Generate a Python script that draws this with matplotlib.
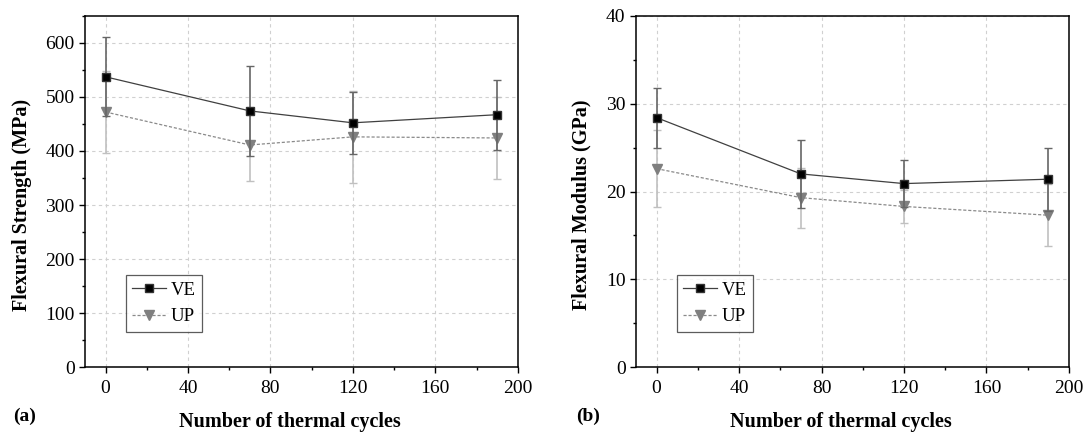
import matplotlib
matplotlib.use("Agg")
import matplotlib.pyplot as plt
from matplotlib.ticker import MultipleLocator

plt.rcParams['font.family'] = ['Liberation Serif', 'DejaVu Serif']

cycles = [0, 70, 120, 190]
ve_strength = [537, 474, 452, 467]
ve_strength_err = [73, 83, 57, 65]
up_strength = [472, 411, 426, 424]
up_strength_err = [76, 66, 85, 75]

ve_modulus = [28.4, 22.0, 20.9, 21.4]
ve_modulus_err = [3.4, 3.9, 2.7, 3.6]
up_modulus = [22.6, 19.3, 18.3, 17.3]
up_modulus_err = [4.4, 3.4, 1.9, 3.5]

xlabel = "Number of thermal cycles"
ylabels = ["Flexural Strength (MPa)", "Flexural Modulus (GPa)"]
panel_tags = ["(a)", "(b)"]
series_names = ["VE", "UP"]

fig = plt.figure(figsize=(10.84, 4.34), dpi=100)
ax1 = fig.add_axes([0.0784, 0.1537, 0.3992, 0.8101])
ax2 = fig.add_axes([0.5867, 0.1537, 0.3994, 0.8101])

def draw(ax, ve, ve_e, up, up_e, ylim, ymajor, yminor, ylabel, ylab_x):
    ax.grid(True, color='#d0d0d0', linestyle=(0, (3, 3)), linewidth=0.8, zorder=0)
    ax.set_axisbelow(True)
    up_c = ax.errorbar(cycles, up, yerr=up_e, color='#8a8a8a', ecolor='#c0c0c0',
                       elinewidth=1.2, capsize=3, capthick=1.0, linestyle=(0, (2.5, 1.5)),
                       linewidth=0.9, marker='v', markersize=7, markerfacecolor='#7f7f7f',
                       markeredgecolor='#7f7f7f', zorder=3)
    ve_c = ax.errorbar(cycles, ve, yerr=ve_e, color='#404040', ecolor='#666666',
                       elinewidth=1.2, capsize=3, capthick=1.0, linestyle='-',
                       linewidth=0.9, marker='s', markersize=6, markerfacecolor='black',
                       markeredgecolor='#333333', zorder=4)
    ax.set_xlim(-10, 200)
    ax.set_ylim(*ylim)
    ax.xaxis.set_major_locator(MultipleLocator(40))
    ax.xaxis.set_minor_locator(MultipleLocator(20))
    ax.yaxis.set_major_locator(MultipleLocator(ymajor))
    ax.yaxis.set_minor_locator(MultipleLocator(yminor))
    ax.tick_params(which='major', direction='out', length=4.5, width=1, labelsize=14,
                   top=False, right=False)
    ax.tick_params(axis='x', which='major', pad=5)
    ax.tick_params(axis='y', which='major', pad=3)
    ax.tick_params(which='minor', direction='out', length=2.5, width=1, top=False, right=False)
    for s in ax.spines.values():
        s.set_linewidth(1.1)
    ax.set_xlabel(xlabel, fontsize=14.5, fontweight='bold')
    ax.xaxis.set_label_coords(0.4724, -0.1547)
    ax.xaxis.label.set_va('center')
    ax.set_ylabel(ylabel, fontsize=14.5, fontweight='bold')
    ax.yaxis.set_label_coords(ylab_x, 0.4616)
    ax.yaxis.label.set_va('center')
    leg = ax.legend([ve_c[0], up_c[0]], series_names, loc='lower left',
                    bbox_to_anchor=(0.094, 0.101), borderaxespad=0,
                    fontsize=13.5, frameon=True, fancybox=False, edgecolor='#333333',
                    handlelength=1.8, borderpad=0.35, labelspacing=0.5, handletextpad=0.25)
    leg.get_frame().set_linewidth(0.9)

draw(ax1, ve_strength, ve_strength_err, up_strength, up_strength_err,
     (0, 650), 100, 50, ylabels[0], -0.145)
draw(ax2, ve_modulus, ve_modulus_err, up_modulus, up_modulus_err,
     (0, 40), 10, 5, ylabels[1], -0.125)

fig.text(13.5/1084, 1 - 416/434, panel_tags[0], fontsize=14, fontweight='bold', va='center')
fig.text(576/1084, 1 - 416/434, panel_tags[1], fontsize=14, fontweight='bold', va='center')

fig.savefig("out.png", dpi=100)
